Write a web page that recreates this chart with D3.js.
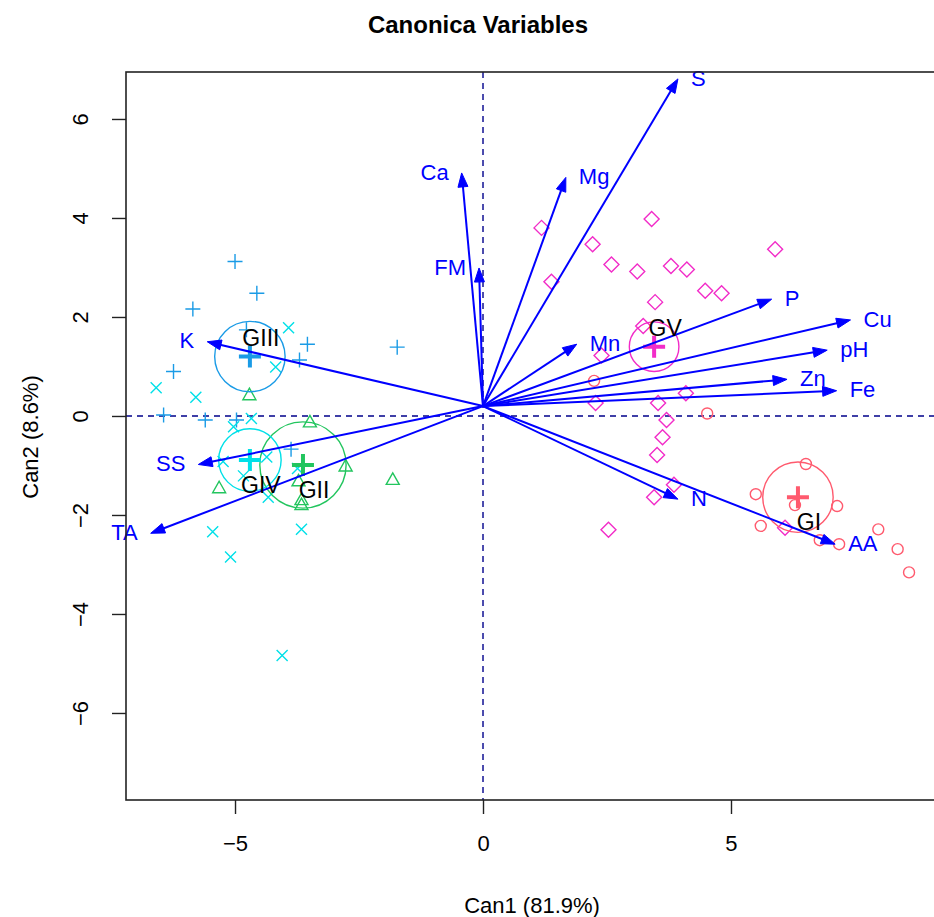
<!DOCTYPE html>
<html><head><meta charset="utf-8">
<script src="https://cdn.jsdelivr.net/npm/d3@7"></script>
<style>body{margin:0;background:#fff;} svg{display:block;font-family:"Liberation Sans",Arial,sans-serif;}</style>
</head><body>
<svg id="c" width="934" height="917"></svg>
<script>
// ---------- data ----------
const groups = ["GI","GII","GIII","GIV","GV"];
const groupColors = ["#FF5A6E","#22C55E","#1A9BE6","#00E0E8","#F22CC8"];
const groupShapes = ["circle","triangle","plus","cross","diamond"];
const meanX = [6.35,-3.63,-4.70,-4.70,3.45];
const meanY = [-1.64,-0.99,1.20,-0.89,1.40];
const radius = [0.71,0.87,0.71,0.63,0.50];

const gIx = [6.51,5.50,7.14,6.29,5.60,6.79,7.18,7.97,8.36,8.59,2.24,4.52];
const gIy = [-0.97,-1.58,-1.82,-1.80,-2.22,-2.51,-2.59,-2.29,-2.69,-3.16,0.71,0.05];
const gIIx = [-4.71,-3.49,-5.32,-2.77,-1.82,-3.66,-3.66,-3.72];
const gIIy = [0.42,-0.13,-1.46,-1.02,-1.29,-1.70,-1.80,-1.32];
const gIIIx = [-5.00,-4.56,-5.85,-4.77,-3.54,-3.70,-6.24,-6.44,-5.60,-4.97,-1.73,-3.87];
const gIIIy = [3.12,2.48,2.16,1.74,1.45,1.13,0.90,0.02,-0.08,-0.08,1.39,-0.67];
const gIVx = [-3.92,-4.18,-6.59,-5.79,-4.67,-5.03,-5.24,-4.36,-4.83,-4.33,-5.45,-3.66,-5.09,-4.05,-3.74];
const gIVy = [1.78,0.99,0.57,0.38,-0.05,-0.22,-0.92,-0.83,-1.21,-1.64,-2.34,-2.29,-2.85,-4.84,-1.06];
const gVx = [1.18,3.40,2.21,2.59,3.11,3.79,4.11,1.38,4.48,4.81,3.47,3.23,2.39,4.09,2.27,3.53,3.70,3.62,3.51,3.85,3.45,2.53,6.09,5.89];
const gVy = [3.80,3.98,3.47,3.06,2.92,3.03,2.96,2.71,2.53,2.48,2.30,1.82,1.22,0.46,0.26,0.26,-0.08,-0.43,-0.79,-1.39,-1.64,-2.30,-2.26,3.37];

const vecNames = ["S","Ca","Mg","FM","Mn","P","Cu","pH","Zn","Fe","N","AA","K","SS","TA"];
const vecX = [3.93,-0.43,1.67,-0.08,1.89,5.82,7.41,6.94,6.13,7.13,3.93,7.10,-5.56,-5.74,-6.70];
const vecY = [6.81,4.91,4.82,2.99,1.45,2.36,1.94,1.33,0.74,0.51,-1.68,-2.59,1.50,-0.98,-2.37];
const vecOrigin = [0,0.2];

const xTicks = [-5,0,5];
const yTicks = [-6,-4,-2,0,2,4,6];
const title = "Canonica Variables";
const xTitle = "Can1 (81.9%)";
const yTitle = "Can2 (8.6%)";

// ---------- layout ----------
const L=126, R=940, T=72, B=800;
const x = d3.scaleLinear().domain([-7.198, 9.214]).range([L, R]);
const y = d3.scaleLinear().domain([-7.758, 6.949]).range([B, T]);
const svg = d3.select("#c");

svg.append("defs").append("clipPath").attr("id","clip")
  .append("rect").attr("x",L).attr("y",T).attr("width",R-L).attr("height",B-T);
const plot = svg.append("g").attr("clip-path","url(#clip)");

// dashed reference lines
plot.append("line").attr("x1",L).attr("x2",R).attr("y1",y(0)).attr("y2",y(0))
  .attr("stroke","#00008B").attr("stroke-width",1.4).attr("stroke-dasharray","6,5");
plot.append("line").attr("x1",x(0)).attr("x2",x(0)).attr("y1",T).attr("y2",B)
  .attr("stroke","#00008B").attr("stroke-width",1.4).attr("stroke-dasharray","6,5");

// points
const pts = [[gIx,gIy],[gIIx,gIIy],[gIIIx,gIIIy],[gIVx,gIVy],[gVx,gVy]];
function shapePath(s){
  if(s==="triangle") return "M0,-7L6.5,4.5L-6.5,4.5Z";
  if(s==="plus") return "M-7.5,0H7.5M0,-7.5V7.5";
  if(s==="cross") return "M-5.5,-5.5L5.5,5.5M-5.5,5.5L5.5,-5.5";
  if(s==="diamond") return "M0,-7.5L7.5,0L0,7.5L-7.5,0Z";
  return null;
}
pts.forEach((p,gi)=>{
  const col=groupColors[gi], sh=groupShapes[gi];
  const data = p[0].map((v,i)=>[v,p[1][i]]);
  const g = plot.append("g");
  if(sh==="circle"){
    g.selectAll("circle").data(data).join("circle")
      .attr("cx",d=>x(d[0])).attr("cy",d=>y(d[1])).attr("r",5.5)
      .attr("fill","none").attr("stroke",col).attr("stroke-width",1.4);
  } else {
    g.selectAll("path").data(data).join("path")
      .attr("transform",d=>`translate(${x(d[0])},${y(d[1])})`)
      .attr("d",shapePath(sh)).attr("fill","none").attr("stroke",col).attr("stroke-width",1.4);
  }
});

// group means, circles
groups.forEach((gname,gi)=>{
  const cx=x(meanX[gi]), cy=y(meanY[gi]), col=groupColors[gi];
  plot.append("circle").attr("cx",cx).attr("cy",cy)
    .attr("r",x(radius[gi])-x(0)).attr("fill","none").attr("stroke",col).attr("stroke-width",1.4);
  plot.append("path").attr("transform",`translate(${cx},${cy})`)
    .attr("d","M-11,0H11M0,-11V11").attr("stroke",col).attr("stroke-width",4).attr("fill","none");
});

// vectors
const ox=x(vecOrigin[0]), oy=y(vecOrigin[1]);
vecNames.forEach((nm,i)=>{
  const tx=x(vecX[i]), ty=y(vecY[i]);
  const dx=tx-ox, dy=ty-oy, len=Math.hypot(dx,dy), ux=dx/len, uy=dy/len;
  const hl=14, hw=5;
  const bx=tx-ux*hl, by=ty-uy*hl;
  plot.append("line").attr("x1",ox).attr("y1",oy).attr("x2",bx+ux*2).attr("y2",by+uy*2)
    .attr("stroke","#0000FF").attr("stroke-width",2);
  plot.append("path").attr("d",`M${tx},${ty}L${bx-uy*hw},${by+ux*hw}L${bx+uy*hw},${by-ux*hw}Z`)
    .attr("fill","#0000FF").attr("stroke","#0000FF").attr("stroke-width",1);
  const right = vecX[i]>=0;
  svg.append("text").attr("x",tx+(right?13:-13)).attr("y",ty-1).attr("dy","0.35em")
    .attr("text-anchor",right?"start":"end").attr("font-size",22).attr("fill","#0000FF").text(nm);
});

// group labels
groups.forEach((gname,gi)=>{
  const cx=x(meanX[gi]), cy=y(meanY[gi]);
  svg.append("text").attr("x",cx+11).attr("y",cy+(meanY[gi]>0?-19:25)).attr("dy","0.35em")
    .attr("text-anchor","middle").attr("font-size",23).attr("fill","#000").text(gname);
});

// box
svg.append("rect").attr("x",L).attr("y",T).attr("width",R-L).attr("height",B-T)
  .attr("fill","none").attr("stroke","#222").attr("stroke-width",1.6);

// axes
const xa = svg.append("g").attr("transform",`translate(0,${B})`)
  .call(d3.axisBottom(x).tickValues(xTicks).tickSize(14).tickPadding(21).tickFormat(d=>d<0?"\u2212"+Math.abs(d):d));
xa.select(".domain").remove();
xa.selectAll("line").attr("stroke","#222").attr("stroke-width",1.4);
xa.selectAll("text").attr("font-size",22).attr("fill","#000").attr("font-family","Liberation Sans, Arial, sans-serif");

const ya = svg.append("g").attr("transform",`translate(${L},0)`)
  .call(d3.axisLeft(y).tickValues(yTicks).tickSize(14).tickFormat(d=>d<0?"\u2212"+Math.abs(d):d));
ya.select(".domain").remove();
ya.selectAll("line").attr("stroke","#222").attr("stroke-width",1.4);
ya.selectAll("text").attr("font-size",22).attr("fill","#000").attr("font-family","Liberation Sans, Arial, sans-serif")
  .attr("x",0).attr("dy",0).attr("text-anchor","middle")
  .attr("transform","translate(-46,0) rotate(-90)").attr("dominant-baseline","central");

// titles
svg.append("text").attr("x",478).attr("y",25).attr("dy","0.35em").attr("text-anchor","middle")
  .attr("font-size",24).attr("font-weight","bold").text(title);
svg.append("text").attr("x",532).attr("y",905).attr("dy","0.35em").attr("text-anchor","middle")
  .attr("font-size",22).text(xTitle);
svg.append("text").attr("transform","translate(30,437) rotate(-90)").attr("dy","0.35em").attr("text-anchor","middle")
  .attr("font-size",22).text(yTitle);
</script>
</body></html>
